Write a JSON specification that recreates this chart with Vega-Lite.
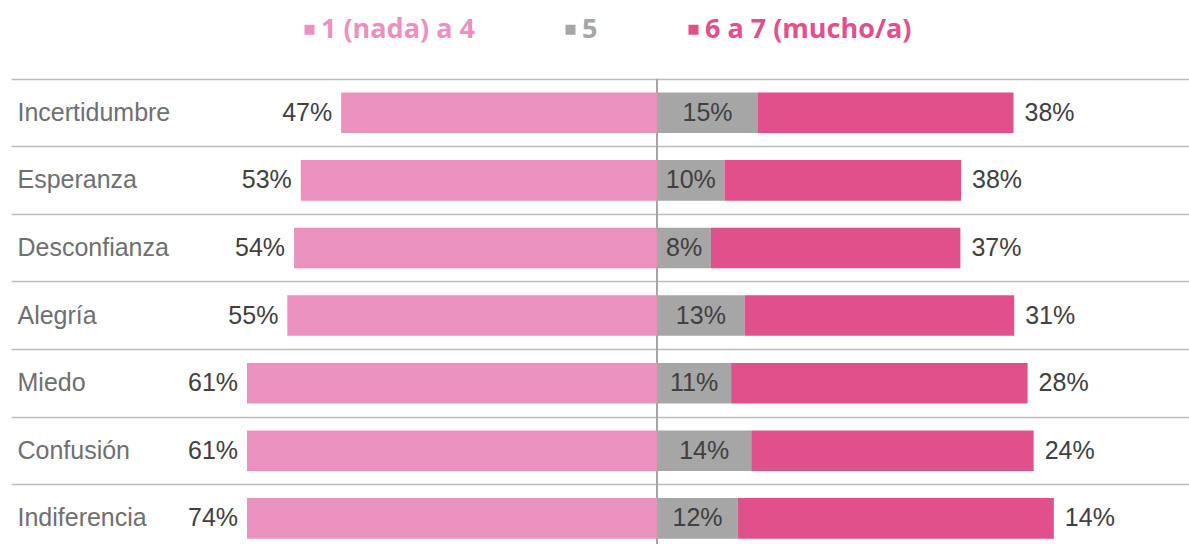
{
  "$schema": "https://vega.github.io/schema/vega-lite/v6.json",
  "width": 1178,
  "height": 473.2,
  "autosize": {"type": "none"},
  "padding": {"left": 11, "top": 79, "right": 0, "bottom": 0},
  "background": "white",
  "config": {"view": {"stroke": null}},
  "data": {
    "values": [
      {"e": "Incertidumbre", "g": "1 (nada) a 4", "v": -47, "t": "47%"},
      {"e": "Incertidumbre", "g": "5", "v": 15, "t": "15%"},
      {"e": "Incertidumbre", "g": "6 a 7 (mucho/a)", "v": 38, "t": "38%"},
      {"e": "Esperanza", "g": "1 (nada) a 4", "v": -53, "t": "53%"},
      {"e": "Esperanza", "g": "5", "v": 10, "t": "10%"},
      {"e": "Esperanza", "g": "6 a 7 (mucho/a)", "v": 35.2, "t": "38%"},
      {"e": "Desconfianza", "g": "1 (nada) a 4", "v": -54, "t": "54%"},
      {"e": "Desconfianza", "g": "5", "v": 8, "t": "8%"},
      {"e": "Desconfianza", "g": "6 a 7 (mucho/a)", "v": 37.1, "t": "37%"},
      {"e": "Alegría", "g": "1 (nada) a 4", "v": -55, "t": "55%"},
      {"e": "Alegría", "g": "5", "v": 13, "t": "13%"},
      {"e": "Alegría", "g": "6 a 7 (mucho/a)", "v": 40.1, "t": "31%"},
      {"e": "Miedo", "g": "1 (nada) a 4", "v": -61, "t": "61%"},
      {"e": "Miedo", "g": "5", "v": 11, "t": "11%"},
      {"e": "Miedo", "g": "6 a 7 (mucho/a)", "v": 44.1, "t": "28%"},
      {"e": "Confusión", "g": "1 (nada) a 4", "v": -61, "t": "61%"},
      {"e": "Confusión", "g": "5", "v": 14, "t": "14%"},
      {"e": "Confusión", "g": "6 a 7 (mucho/a)", "v": 42, "t": "24%"},
      {"e": "Indiferencia", "g": "1 (nada) a 4", "v": -61, "t": "74%"},
      {"e": "Indiferencia", "g": "5", "v": 12, "t": "12%"},
      {"e": "Indiferencia", "g": "6 a 7 (mucho/a)", "v": 47, "t": "14%"}
    ]
  },
  "transform": [
    {"stack": "v", "groupby": ["e"], "sort": [{"field": "g", "order": "ascending"}], "as": ["v0", "v1"], "offset": "zero"}
  ],
  "resolve": {"scale": {"x": "independent"}},
  "layer": [
    {
      "mark": {"type": "rule", "color": "#A6A6A6", "strokeWidth": 1},
      "encoding": {
        "x": {"datum": 0, "type": "quantitative", "scale": {"domain": [-96.1, 79.1], "nice": false, "zero": false}, "axis": null}
      }
    },
    {
      "mark": {"type": "bar"},
      "encoding": {
        "y": {
          "field": "e", "type": "nominal",
          "sort": ["Incertidumbre", "Esperanza", "Desconfianza", "Alegría", "Miedo", "Confusión", "Indiferencia"],
          "scale": {"paddingInner": 0.4, "paddingOuter": 0.2},
          "axis": {
            "title": null, "domain": false, "ticks": false, "tickSize": 0,
            "labelAlign": "left", "labelPadding": -6, "labelBaseline": "middle",
            "labelFont": "Liberation Sans", "labelFontSize": 25,
            "labelColor": "#6F6F6F", "labelLimit": 400,
            "grid": true, "bandPosition": -0.3333, "gridColor": "#BDBDBD", "gridWidth": 1.5
          }
        },
        "x": {"field": "v0", "type": "quantitative", "scale": {"domain": [-96.1, 79.1], "nice": false, "zero": false}, "axis": null},
        "x2": {"field": "v1"},
        "color": {
          "field": "g", "type": "nominal",
          "scale": {"domain": ["1 (nada) a 4", "5", "6 a 7 (mucho/a)"], "range": ["#EB91BE", "#A6A6A6", "#E0508A"]},
          "legend": {
            "title": null, "orient": "none", "direction": "horizontal",
            "legendX": 285, "legendY": -63,
            "symbolType": "square", "symbolSize": 100, "symbolStrokeWidth": 0,
            "labelFont": "Open Sans", "labelFontSize": 27, "labelFontWeight": "bold",
            "labelOffset": -2, "labelLimit": 400, "columnPadding": 82,
            "encoding": {
              "labels": {
                "fill": {
                  "condition": [
                    {"test": "datum.value === '5'", "value": "#A6A6A6"},
                    {"test": "datum.value === '6 a 7 (mucho/a)'", "value": "#E0508A"}
                  ],
                  "value": "#EB91BE"
                }
              }
            }
          }
        }
      }
    },
    {
      "transform": [{"filter": "datum.g === '1 (nada) a 4'"}],
      "mark": {"type": "text", "align": "right", "baseline": "middle", "dx": -9, "font": "Liberation Sans", "fontSize": 25, "color": "#404040"},
      "encoding": {
        "y": {"field": "e", "type": "nominal", "sort": ["Incertidumbre", "Esperanza", "Desconfianza", "Alegría", "Miedo", "Confusión", "Indiferencia"]},
        "x": {"field": "v1", "type": "quantitative", "scale": {"domain": [-96.1, 79.1], "nice": false, "zero": false}, "axis": null},
        "text": {"field": "t"}
      }
    },
    {
      "transform": [{"filter": "datum.g === '6 a 7 (mucho/a)'"}],
      "mark": {"type": "text", "align": "left", "baseline": "middle", "dx": 11, "font": "Liberation Sans", "fontSize": 25, "color": "#404040"},
      "encoding": {
        "y": {"field": "e", "type": "nominal", "sort": ["Incertidumbre", "Esperanza", "Desconfianza", "Alegría", "Miedo", "Confusión", "Indiferencia"]},
        "x": {"field": "v1", "type": "quantitative", "scale": {"domain": [-96.1, 79.1], "nice": false, "zero": false}, "axis": null},
        "text": {"field": "t"}
      }
    },
    {
      "transform": [{"filter": "datum.g === '5'"}],
      "mark": {"type": "text", "align": "center", "baseline": "middle", "font": "Liberation Sans", "fontSize": 25, "color": "#404040"},
      "encoding": {
        "y": {"field": "e", "type": "nominal", "sort": ["Incertidumbre", "Esperanza", "Desconfianza", "Alegría", "Miedo", "Confusión", "Indiferencia"]},
        "x": {"field": "v", "type": "quantitative", "scale": {"domain": [-192.2, 158.2], "nice": false, "zero": false}, "axis": null},
        "text": {"field": "t"}
      }
    }
  ]
}
